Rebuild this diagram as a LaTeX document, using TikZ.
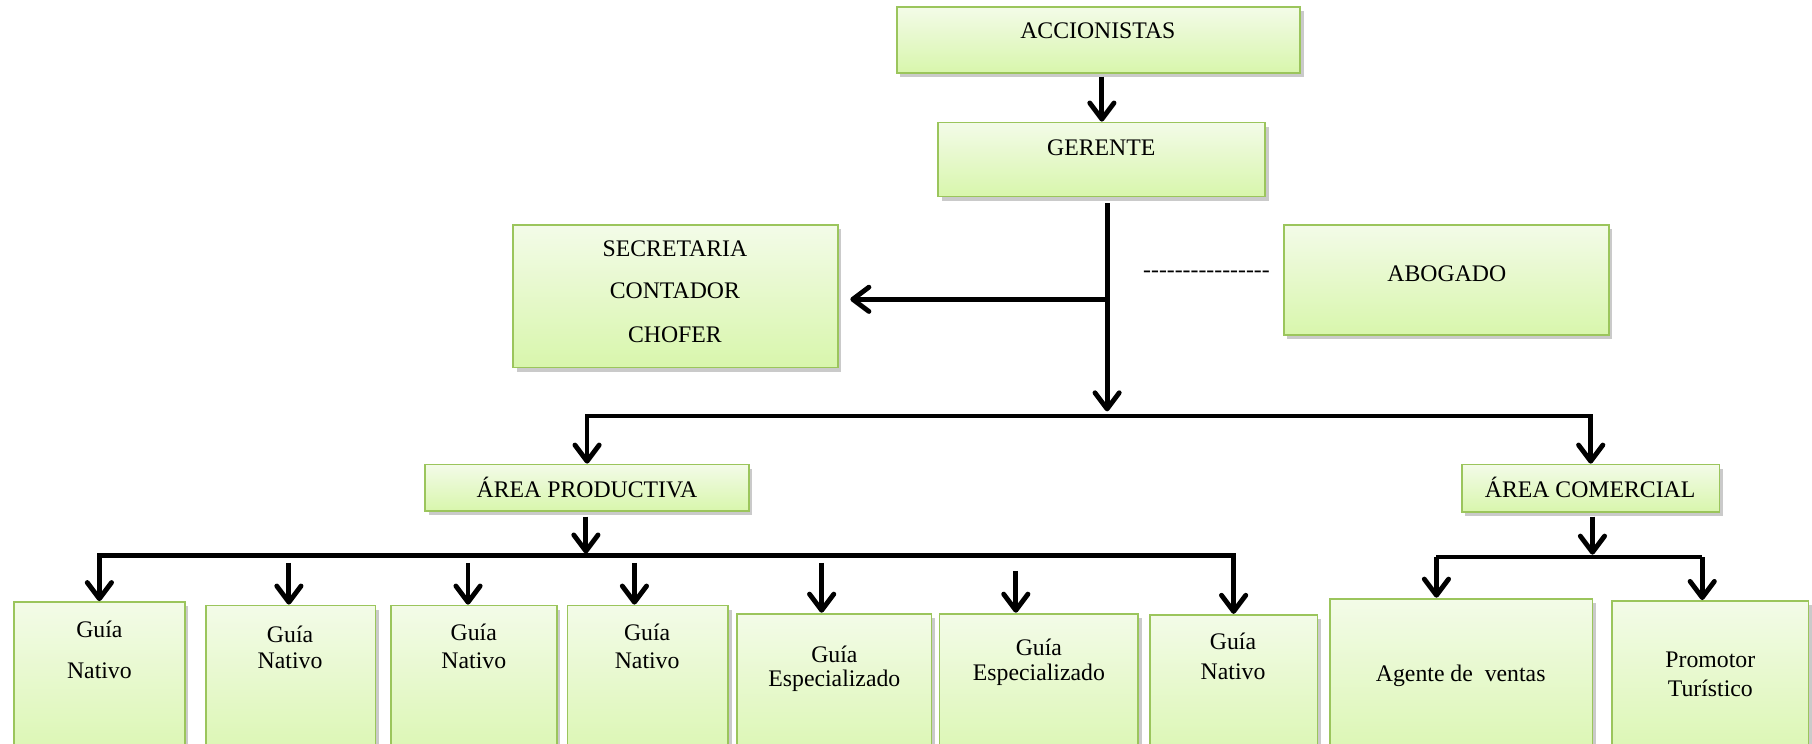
\documentclass[tikz,border=0pt]{standalone}
\usepackage{fontspec}
\setmainfont{Liberation Serif}
\usetikzlibrary{arrows.meta,shadows,fit}
\definecolor{boxtop}{RGB}{243,251,232}
\definecolor{boxbot}{RGB}{216,246,172}
\definecolor{boxline}{RGB}{155,197,92}
\tikzset{
  box/.style={draw=boxline, line width=0.9pt, top color=boxtop, bottom color=boxbot, inner sep=0pt,
    drop shadow={shadow xshift=0.6mm, shadow yshift=-0.7mm, opacity=0.35, fill=black!60}},
  lbl/.style={font=\fontsize{11.7}{14}\selectfont, inner sep=0pt, anchor=center},
  ln/.style={line width=2.4pt},
  arr/.style={line width=2.4pt, -{Straight Barb[length=2.8mm, width=4.2mm, round]}}
}
\begin{document}
\begin{tikzpicture}[x=0.02cm, y=-0.02cm]
\useasboundingbox (0,0) rectangle (1568,643);
\clip (0,0) rectangle (1568,643);

% boxes
\node[box, fit={(776,6) (1125,63)}] (acc) {};
\node[box, fit={(812,106) (1095,170)}] (ger) {};
\node[box, fit={(444,195) (725,318)}] (sec) {};
\node[box, fit={(1111,195) (1392,290)}] (abo) {};
\node[box, fit={(368,402) (648,442)}] (prod) {};
\node[box, fit={(1265,402) (1488,443)}] (com) {};
\node[box, fit={(12,521) (160,670)}] (g1) {};
\node[box, fit={(178,524) (325,670)}] (g2) {};
\node[box, fit={(338,524) (482,670)}] (g3) {};
\node[box, fit={(491,524) (630,670)}] (g4) {};
\node[box, fit={(638,531) (806,670)}] (g5) {};
\node[box, fit={(813,531) (985,670)}] (g6) {};
\node[box, fit={(995,532) (1140,670)}] (g7) {};
\node[box, fit={(1151,518) (1378,670)}] (age) {};
\node[box, fit={(1395,520) (1565,670)}] (pro) {};

% texts
\node[lbl] (tacc) at (950,27) {ACCIONISTAS};
\node[lbl] (tger) at (953,128) {GERENTE};
\node[lbl] (tsec1) at (584,215) {SECRETARIA};
\node[lbl] (tsec2) at (584,252) {CONTADOR};
\node[lbl] (tsec3) at (584,290) {CHOFER};
\node[lbl] (tabo) at (1252,237) {ABOGADO};
\node[lbl] (tdash) at (1044,237) {-\kern0pt-\kern0pt-\kern0pt-\kern0pt-\kern0pt-\kern0pt-\kern0pt-\kern0pt-\kern0pt-\kern0pt-\kern0pt-\kern0pt-\kern0pt-\kern0pt-\kern0pt-};
\node[lbl] (tprod) at (508,422) {ÁREA PRODUCTIVA};
\node[lbl] (tcom) at (1376,422) {ÁREA COMERCIAL};
\node[lbl] (tg1a) at (86,545) {Guía};
\node[lbl] (tg1b) at (86,580) {Nativo};
\node[lbl] (tg2a) at (251,549) {Guía};
\node[lbl] (tg2b) at (251,572) {Nativo};
\node[lbl] (tg3a) at (410,547) {Guía};
\node[lbl] (tg3b) at (410,572) {Nativo};
\node[lbl] (tg4a) at (560,547) {Guía};
\node[lbl] (tg4b) at (560,572) {Nativo};
\node[lbl] (tg5a) at (722,566) {Guía};
\node[lbl] (tg5b) at (722,589) {Especializado};
\node[lbl] (tg6a) at (899,560) {Guía};
\node[lbl] (tg6b) at (899,584) {Especializado};
\node[lbl] (tg7a) at (1067,555) {Guía};
\node[lbl] (tg7b) at (1067,581) {Nativo};
\node[lbl] (tage) at (1264,585) {Agente de\ \ ventas};
\node[lbl] (tpro1) at (1480,571) {Promotor};
\node[lbl] (tpro2) at (1480,596) {Turístico};

% connectors
\draw[arr] ([yshift=-0.05cm]acc.south -| ger.north) -- (ger.north);
\coordinate (g0) at (958,176);
\coordinate (gj) at (958,259);
\coordinate (hm) at (958,360);
\coordinate (gt) at (958,356);
\draw[arr] (g0) -- (gt);
\draw[arr] (gj) -- ([xshift=0.2cm]sec.east |- gj);
\draw[arr] (hm) -| (prod.north);
\draw[arr] (hm) -| (com.north);

% productive branch
\coordinate (p0) at (507,447);
\coordinate (pj) at (507,479);
\coordinate (pl) at (507,481);
\draw[arr] (p0) -- (pj);
\draw[arr] (pl) -| (g1.north);
\draw[arr] (pl) -| (g7.north);
\coordinate (a2) at (250,487);
\coordinate (a3) at (405,487);
\coordinate (a4) at (549,487);
\coordinate (a5) at (711,487);
\coordinate (a6) at (879,494);
\draw[arr] (a2) -- (a2 |- g2.north);
\draw[arr] (a3) -- (a3 |- g3.north);
\draw[arr] (a4) -- (a4 |- g4.north);
\draw[arr] (a5) -- (a5 |- g5.north);
\draw[arr] (a6) -- (a6 |- g6.north);

% commercial branch
\coordinate (c0) at (1378,447);
\coordinate (cj) at (1378,480);
\coordinate (c1) at (1243,482);
\coordinate (c2) at (1473,482);
\draw[arr] (c0) -- (cj);
\draw[ln] (c1) -- (c2);
\draw[arr] (c1) -- (c1 |- age.north);
\draw[arr] (c2) -- (c2 |- pro.north);
\end{tikzpicture}
\end{document}
